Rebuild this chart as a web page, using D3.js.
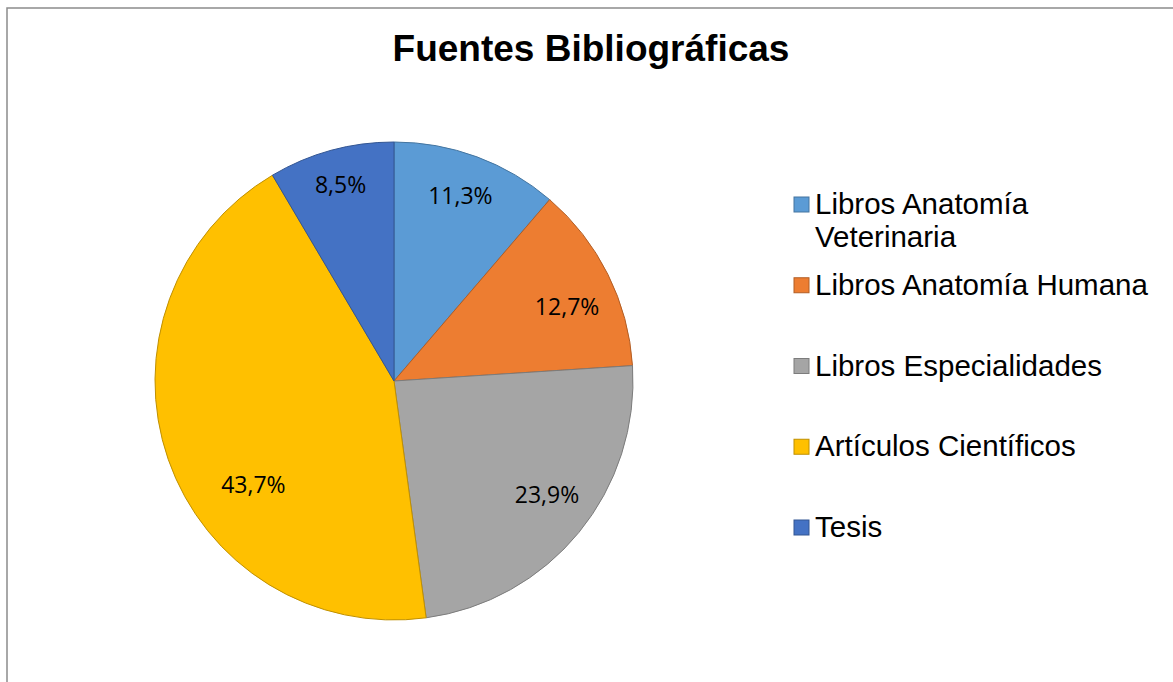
<!DOCTYPE html>
<html>
<head>
  <meta charset="utf-8">
  <script src="https://cdn.jsdelivr.net/npm/d3@7"></script>
  <style>
    body { margin: 0; background: white; }
    svg { display: block; }
  </style>
</head>
<body>
  <script>
    const categories = ['Libros Anatomía Veterinaria', 'Libros Anatomía Humana', 'Libros Especialidades', 'Artículos Científicos', 'Tesis']
    const values = [11.3, 12.7, 23.9, 43.7, 8.5]
    const labels = ['11,3%', '12,7%', '23,9%', '43,7%', '8,5%']
    const legendLines = [['Libros Anatomía', 'Veterinaria'], ['Libros Anatomía Humana'], ['Libros Especialidades'], ['Artículos Científicos'], ['Tesis']]
    const colors = ['#5B9BD5', '#ED7D31', '#A5A5A5', '#FFC000', '#4472C4']

    const W = 1173, H = 682
    const arial = "Arial, 'Liberation Sans', sans-serif"
    const svg = d3.select('body').append('svg').attr('width', W).attr('height', H)

    // chart border (runs off the right and bottom edge)
    svg.append('rect')
      .attr('x', 7).attr('y', 8).attr('width', W).attr('height', H)
      .attr('fill', 'white').attr('stroke', '#8c8c8c').attr('stroke-width', 1.5)

    svg.append('text')
      .attr('x', 591).attr('y', 61)
      .attr('text-anchor', 'middle')
      .style('font-family', arial)
      .style('font-weight', 'bold')
      .style('font-size', '37px')
      .text('Fuentes Bibliográficas')

    const cx = 394, cy = 381, r = 239
    const color = d3.scaleOrdinal().domain(categories).range(colors)
    const pie = d3.pie().sort(null).value(d => d.v)
    const arcs = pie(categories.map((c, i) => ({ c, v: values[i], label: labels[i] })))
    const arc = d3.arc().innerRadius(0).outerRadius(r)
    const labelArc = d3.arc().innerRadius(r * 0.8).outerRadius(r * 0.8)
    // small nudges to the label spots, as in the original (best-fit placement)
    const labelNudge = [[0, -6], [2, 11], [5, -7], [40, 41], [-3, -12]]

    const g = svg.append('g').attr('transform', `translate(${cx},${cy})`)
    g.selectAll('path').data(arcs).join('path')
      .attr('d', arc)
      .attr('fill', d => color(d.data.c))
      .attr('stroke', d => d3.color(color(d.data.c)).darker(0.8))
      .attr('stroke-width', 1)

    g.selectAll('text').data(arcs).join('text')
      .attr('transform', (d, i) => {
        const [x, y] = labelArc.centroid(d)
        return `translate(${x + labelNudge[i][0]},${y + labelNudge[i][1]})`
      })
      .attr('text-anchor', 'middle')
      .attr('dy', '0.35em')
      .style('font-family', "'Open Sans', sans-serif")
      .style('font-size', '23px')
      .text(d => d.data.label)

    // legend
    const legendY = d3.scalePoint().domain(categories).range([204, 527])
    const lg = svg.append('g')
    const item = lg.selectAll('g').data(categories).join('g')
      .attr('transform', (d, i) => `translate(794,${i === 0 ? 204 : legendY(d)})`)
    item.append('rect')
      .attr('x', 0).attr('y', -7).attr('width', 15).attr('height', 15)
      .attr('fill', d => color(d))
      .attr('stroke', d => d3.color(color(d)).darker(0.8))
      .attr('stroke-width', 1)
    item.each(function (d, i) {
      const t = d3.select(this).append('text')
        .style('font-family', arial)
        .style('font-size', '29.5px')
      legendLines[i].forEach((line, j) => {
        t.append('tspan').attr('x', 21).attr('y', 10 + j * 33).text(line)
      })
    })
  </script>
</body>
</html>
